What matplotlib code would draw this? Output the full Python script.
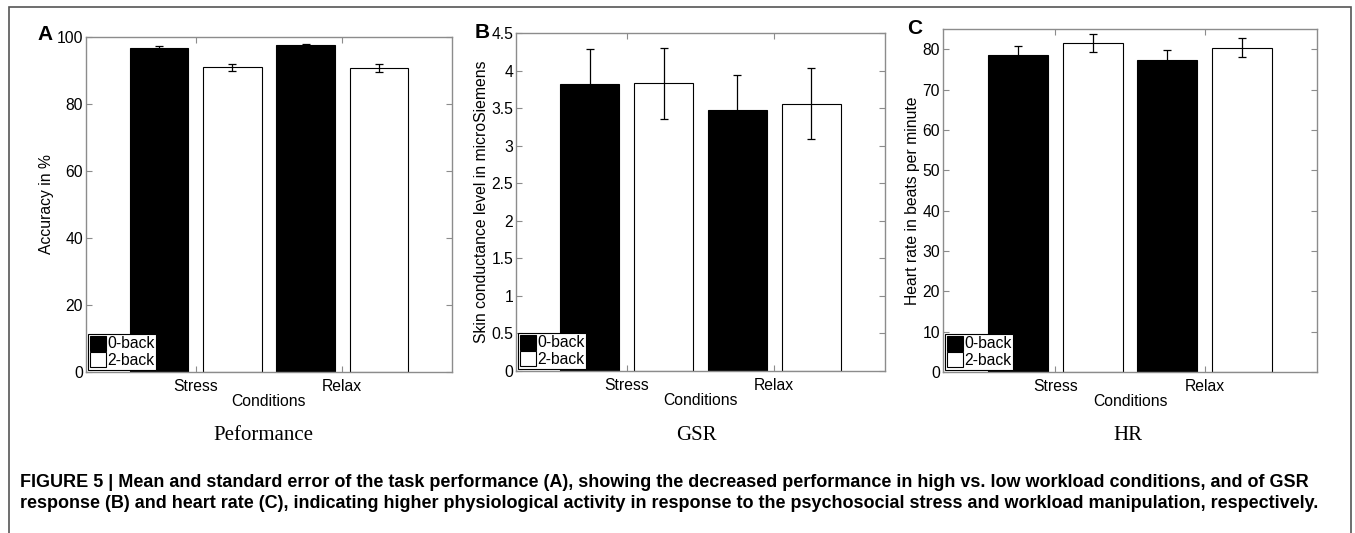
import numpy as np
import matplotlib
matplotlib.use("Agg")
import matplotlib.pyplot as plt
from matplotlib.patches import Rectangle

plt.rcParams['font.family'] = ['Liberation Sans', 'DejaVu Sans']

# Data
conditions = ['Stress', 'Relax']
legend_labels = ['0-back', '2-back']

acc_0back = [96.8, 97.5]
acc_2back = [91.0, 90.7]
acc_0back_se = [0.4, 0.3]
acc_2back_se = [1.0, 1.2]

gsr_0back = [3.82, 3.47]
gsr_2back = [3.83, 3.56]
gsr_0back_se = [0.47, 0.47]
gsr_2back_se = [0.47, 0.47]

hr_0back = [78.5, 77.4]
hr_2back = [81.6, 80.4]
hr_0back_se = [2.4, 2.3]
hr_2back_se = [2.2, 2.3]

panels = [
    dict(letter='A', ylabel='Accuracy in %', title='Peformance',
         v0=acc_0back, v2=acc_2back, e0=acc_0back_se, e2=acc_2back_se,
         ylim=(0, 100), yticks=[0, 20, 40, 60, 80, 100], yfmt='%d',
         rect=[86, 37, 452, 372], letter_xy=(45, 34), title_x=263),
    dict(letter='B', ylabel='Skin conductance level in microSiemens', title='GSR',
         v0=gsr_0back, v2=gsr_2back, e0=gsr_0back_se, e2=gsr_2back_se,
         ylim=(0, 4.5), yticks=[0, 0.5, 1, 1.5, 2, 2.5, 3, 3.5, 4, 4.5], yfmt='%g',
         rect=[516, 33, 885, 371], letter_xy=(482, 33), title_x=696),
    dict(letter='C', ylabel='Heart rate in beats per minute', title='HR',
         v0=hr_0back, v2=hr_2back, e0=hr_0back_se, e2=hr_2back_se,
         ylim=(0, 85), yticks=[0, 10, 20, 30, 40, 50, 60, 70, 80], yfmt='%d',
         rect=[943, 29, 1317, 372], letter_xy=(915, 28), title_x=1128),
]

W, H = 1355, 533
fig = plt.figure(figsize=(W / 100, H / 100), dpi=100)

# outer frame
fig.patches.append(Rectangle((9 / W, -0.01), (1351 - 9) / W, 1 - 7 / H + 0.01,
                             transform=fig.transFigure, fill=False,
                             edgecolor='#555555', linewidth=1.2))

x = np.arange(1, len(conditions) + 1)
width = 0.4
spine_col = '#8c8c8c'
fs = 11.3

for p in panels:
    l, t, r, b = p['rect']
    ax = fig.add_axes([l / W, 1 - b / H, (r - l) / W, (b - t) / H])
    ax.bar(x - 0.25, p['v0'], width, color='black', edgecolor='black',
           linewidth=0.8, label=legend_labels[0])
    ax.bar(x + 0.25, p['v2'], width, color='white', edgecolor='black',
           linewidth=0.8, label=legend_labels[1])
    ax.errorbar(x - 0.25, p['v0'], yerr=p['e0'], fmt='none', ecolor='black',
                elinewidth=0.9, capsize=3, capthick=0.9)
    ax.errorbar(x + 0.25, p['v2'], yerr=p['e2'], fmt='none', ecolor='black',
                elinewidth=0.9, capsize=3, capthick=0.9)
    ax.set_xlim(0.25, 2.75)
    ax.set_ylim(*p['ylim'])
    ax.set_xticks(x)
    ax.set_xticklabels(conditions)
    ax.set_yticks(p['yticks'])
    ax.set_yticklabels([p['yfmt'] % v for v in p['yticks']])
    ax.tick_params(direction='in', top=True, right=True, length=4,
                   color=spine_col, labelsize=fs, pad=2)
    ax.tick_params(axis='x', pad=5)
    for s in ax.spines.values():
        s.set_color(spine_col)
        s.set_linewidth(1.0)
    ax.set_xlabel('Conditions', fontsize=fs, labelpad=0)
    ax.set_ylabel(p['ylabel'], fontsize=fs, labelpad=2)
    leg = ax.legend(loc='lower left', bbox_to_anchor=(0.0, 0.0), fontsize=fs,
                    handlelength=1.0, handleheight=1.1, handletextpad=0.1,
                    borderpad=0.1, labelspacing=0.05, borderaxespad=0.15,
                    fancybox=False, framealpha=1)
    leg.get_frame().set_edgecolor('black')
    leg.get_frame().set_linewidth(0.8)
    fig.text(p['letter_xy'][0] / W, 1 - p['letter_xy'][1] / H, p['letter'],
             fontsize=15, fontweight='bold', ha='center', va='center')
    fig.text(p['title_x'] / W, 1 - 435 / H, p['title'],
             family='Liberation Serif', fontsize=15, ha='center', va='center')

caption1 = ('FIGURE 5 | Mean and standard error of the task performance (A), showing the decreased '
            'performance in high vs. low workload conditions, and of GSR')
caption2 = ('response (B) and heart rate (C), indicating higher physiological activity in response '
            'to the psychosocial stress and workload manipulation, respectively.')
fig.text(20 / W, 1 - 487 / H, caption1, fontsize=13.0, fontweight='bold', va='baseline')
fig.text(20 / W, 1 - 508 / H, caption2, fontsize=13.0, fontweight='bold', va='baseline')

fig.savefig('out.png', dpi=100)
